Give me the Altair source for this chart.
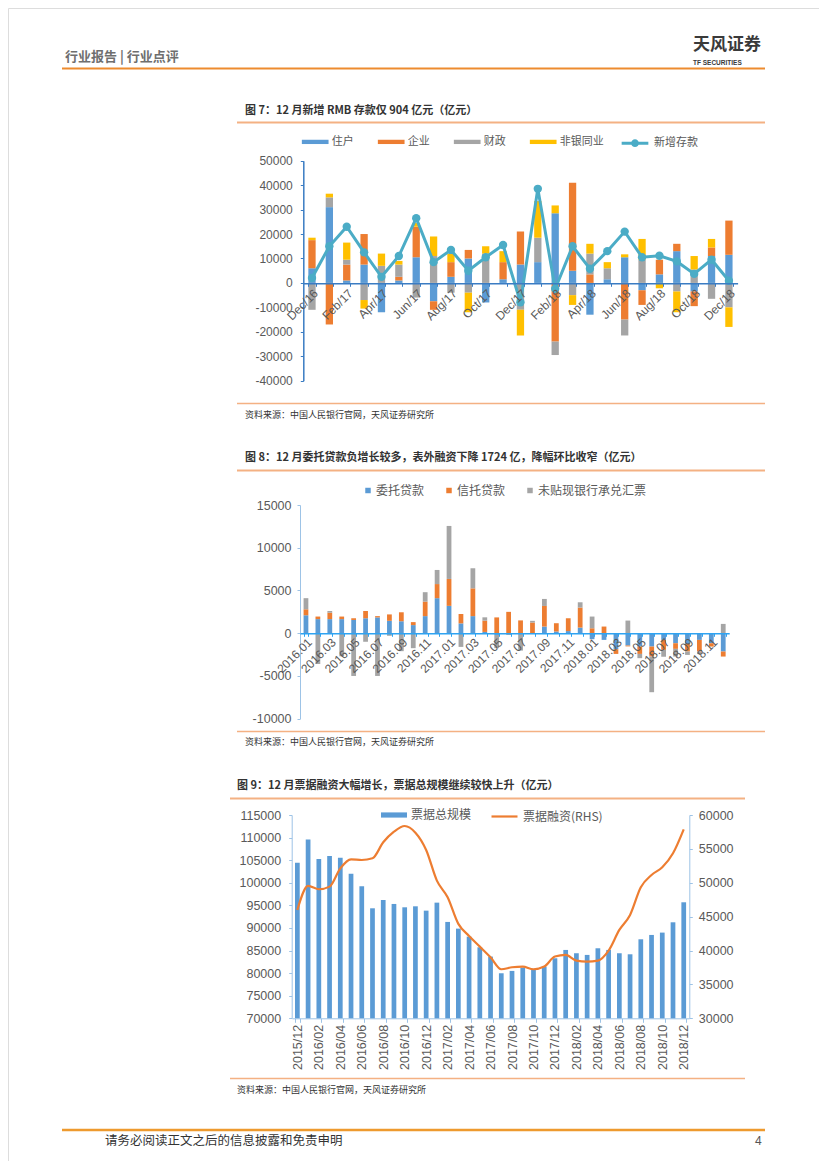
import json
import altair as alt
import pandas as pd

CJK = 'Noto Sans CJK SC'
NUM = 'Liberation Sans'
W, H = 811, 1153
M = 8


def px(v):
    return v - M


def py(v):
    return v - M


# ---------------- texts ----------------
header_text = '行业报告 | 行业点评'
logo_cn = '天风证券'
logo_en = 'TF SECURITIES'
footer_text = '请务必阅读正文之后的信息披露和免责申明'
page_no = '4'
source_text = '资料来源：中国人民银行官网，天风证券研究所'
title7 = '图 7：12 月新增 RMB 存款仅 904 亿元（亿元）'
title8 = '图 8：12 月委托贷款负增长较多，表外融资下降 1724 亿，降幅环比收窄（亿元）'
title9 = '图 9：12 月票据融资大幅增长，票据总规模继续较快上升（亿元）'

# ---------------- chart 7 data ----------------
months7 = ['Dec/16', 'Jan/17', 'Feb/17', 'Mar/17', 'Apr/17', 'May/17', 'Jun/17', 'Jul/17',
           'Aug/17', 'Sep/17', 'Oct/17', 'Nov/17', 'Dec/17', 'Jan/18', 'Feb/18', 'Mar/18',
           'Apr/18', 'May/18', 'Jun/18', 'Jul/18', 'Aug/18', 'Sep/18', 'Oct/18', 'Nov/18', 'Dec/18']
labels7 = ['Dec/16', 'Feb/17', 'Apr/17', 'Jun/17', 'Aug/17', 'Oct/17', 'Dec/17',
           'Feb/18', 'Apr/18', 'Jun/18', 'Aug/18', 'Oct/18', 'Dec/18']
series7 = ['住户', '企业', '财政', '非银同业']
colors7 = ['#5B9BD5', '#ED7D31', '#A5A5A5', '#FFC000']
household = [6000, 31000, 1000, 7500, -12000, 1000, 10500, -7500, 2500, 10000, -8000, 1500, 7500,
             8500, 28500, 5000, -13000, 1500, 10500, -3000, 3500, 13000, -3500, 11000, 11500]
enterprise = [11500, -17000, 6500, 12500, 0, 1500, 12500, -3500, 6000, 3500, 0, 7000, 13500,
              0, -24000, 36000, 3500, 0, -15000, -6000, 6000, 3000, -6000, 3500, 14000]
fiscal = [-11000, 4000, 2000, -7000, 7000, 5000, -6000, 11000, -4000, -4000, 12000, 0, -11000,
          10000, -5500, -5000, 8500, 4500, -6500, 9500, 0, -3500, 5500, -6500, -10000]
nonbank = [1000, 1500, 7000, -3500, 5000, 1500, 1500, 8000, 3500, -8000, 3000, 4500, -10500,
           15000, 3200, -4000, 4000, 2500, 1200, 8500, -2200, -8500, 5500, 3500, -8000]
line7_name = '新增存款'
line7_color = '#4BACC6'
new_deposit = [2000, 15000, 23000, 12500, 2500, 11000, 26500, 8500, 13500, 5000, 10500, 15500,
               -7900, 38500, -2400, 15000, 5800, 13000, 21000, 10500, 11100, 8800, 3700, 9500, 904]
y7_ticks = [-40000, -30000, -20000, -10000, 0, 10000, 20000, 30000, 40000, 50000]

# ---------------- chart 8 data ----------------
months8 = ['2016.01', '2016.02', '2016.03', '2016.04', '2016.05', '2016.06', '2016.07', '2016.08',
           '2016.09', '2016.10', '2016.11', '2016.12', '2017.01', '2017.02', '2017.03', '2017.04',
           '2017.05', '2017.06', '2017.07', '2017.08', '2017.09', '2017.10', '2017.11', '2017.12',
           '2018.01', '2018.02', '2018.03', '2018.04', '2018.05', '2018.06', '2018.07', '2018.08',
           '2018.09', '2018.10', '2018.11', '2018.12']
labels8 = ['2016.01', '2016.03', '2016.05', '2016.07', '2016.09', '2016.11', '2017.01', '2017.03',
           '2017.05', '2017.07', '2017.09', '2017.11', '2018.01', '2018.03', '2018.05', '2018.07',
           '2018.09', '2018.11']
series8 = ['委托贷款', '信托贷款', '未贴现银行承兑汇票']
colors8 = ['#5B9BD5', '#ED7D31', '#A5A5A5']
entrusted = [2100, 1650, 1650, 1650, 1550, 1750, 1850, 1450, 1400, 950, 2000, 4100,
             3200, 1150, 2000, 150, -200, 0, 0, 0, 780, 200, 250, 660,
             -700, -780, -1870, -1440, -1560, -1560, -780, -1170, -1250, -780, -1170, -2140]
trust = [700, 300, 750, 300, 200, 850, 150, 750, 1050, 350, 1700, 1650,
         3150, 1100, 3250, 1320, 1850, 2500, 1500, 1250, 2410, 970, 1500, 2340,
         580, 780, -550, -100, -860, -1170, -1170, -660, -890, -1360, -390, -590]
undiscounted = [1300, -3600, 200, -2700, -5000, -1000, -5000, -300, -2100, -1750, 1100, 1650,
                6200, -1600, 2350, 390, -1550, -200, -2030, 200, 820, 0, 0, 620,
                1370, 0, 0, 1480, -500, -4170, -800, -900, -400, -300, 0, 1090]
y8_ticks = [-10000, -5000, 0, 5000, 10000, 15000]

# ---------------- chart 9 data ----------------
months9 = ['2015/12', '2016/01', '2016/02', '2016/03', '2016/04', '2016/05', '2016/06', '2016/07',
           '2016/08', '2016/09', '2016/10', '2016/11', '2016/12', '2017/01', '2017/02', '2017/03',
           '2017/04', '2017/05', '2017/06', '2017/07', '2017/08', '2017/09', '2017/10', '2017/11',
           '2017/12', '2018/01', '2018/02', '2018/03', '2018/04', '2018/05', '2018/06', '2018/07',
           '2018/08', '2018/09', '2018/10', '2018/11', '2018/12']
labels9 = ['2015/12', '2016/02', '2016/04', '2016/06', '2016/08', '2016/10', '2016/12', '2017/02',
           '2017/04', '2017/06', '2017/08', '2017/10', '2017/12', '2018/02', '2018/04', '2018/06',
           '2018/08', '2018/10', '2018/12']
bar9_name = '票据总规模'
line9_name = '票据融资(RHS)'
bill_total = [104450, 109600, 105270, 105930, 105560, 102020, 99220, 94350, 96190, 95310,
              94570, 94790, 93830, 95600, 91330, 89850, 88080, 85720, 83660, 79970,
              80490, 81220, 80850, 81440, 83290, 85130, 84400, 84030, 85500, 85130,
              84400, 84170, 87490, 88450, 88970, 91250, 95680]
bill_financing = [45990, 49530, 49040, 49430, 52130, 53460, 53360, 53610, 55970, 57540,
                  58380, 57390, 54840, 50320, 47860, 43930, 42150, 40580, 39000, 37240,
                  37530, 37630, 37240, 37630, 39110, 39350, 38520, 38370, 38520, 39990,
                  43040, 45250, 49330, 51150, 52280, 54350, 57890]
y9l_ticks = [70000, 75000, 80000, 85000, 90000, 95000, 100000, 105000, 110000, 115000]
y9r_ticks = [30000, 35000, 40000, 45000, 50000, 55000, 60000]

# ---------------- helpers ----------------
RECT_PATH = 'M-1,-0.16L1,-0.16L1,0.16L-1,0.16Z'
RECT9_PATH = 'M-1,-0.2L1,-0.2L1,0.2L-1,0.2Z'
LINE_DOT_PATH = 'M-1,0L1,0M0.18,0A0.18,0.18,0,1,1,-0.18,0A0.18,0.18,0,1,1,0.18,0Z'
LABEL_GRAY = '#595959'


def label_expr(shown):
    return "indexof(%s, datum.value) >= 0 ? datum.value : ''" % json.dumps(shown)


def text_layer(txt, x, y, size, color='#333333', weight='normal', font=CJK, align='left'):
    return alt.Chart(pd.DataFrame({'t': [txt]})).mark_text(
        align=align, baseline='middle', fontSize=size, font=font, fontWeight=weight, color=color
    ).encode(x=alt.value(px(x)), y=alt.value(py(y)), text='t:N')


def hrule(x1, x2, y, color, width):
    return alt.Chart(pd.DataFrame({'a': [0]})).mark_rule(color=color, strokeWidth=width).encode(
        x=alt.value(px(x1)), x2=alt.value(px(x2)), y=alt.value(py(y)))


def legend(x, y, **kw):
    base = dict(orient='none', legendX=px(x), legendY=py(y), direction='horizontal', title=None,
                padding=0, labelFont=CJK, labelColor=LABEL_GRAY, symbolOpacity=1)
    base.update(kw)
    return alt.Legend(**base)


# ---------------- chart 7 ----------------
AX7 = '#3A7CC3'
L7Y = 141.5 - 13.35
df7 = pd.DataFrame({
    'month': months7 * 4,
    'series': [s for s in series7 for _ in months7],
    'k': [i for i in range(4) for _ in months7],
    'value': household + enterprise + fiscal + nonbank,
})
df7l = pd.DataFrame({'month': months7, 'total': new_deposit, 'name': line7_name})

x7 = alt.X('month:N', sort=months7, title=None,
           scale=alt.Scale(domain=months7, range=[px(303.3), px(737.6)], paddingInner=0.58, paddingOuter=0.29),
           axis=alt.Axis(orient='bottom', offset=py(283.3) - H, domainColor=AX7, domainWidth=1.5,
                         tickColor=AX7, tickSize=3, tickBand='extent', labelAngle=-45, labelAlign='right',
                         labelBaseline='top', labelPadding=1, labelFont=NUM, labelFontSize=12,
                         labelColor=LABEL_GRAY, labelOverlap=False, labelExpr=label_expr(labels7), zindex=1))
sy7 = alt.Scale(domain=[-40000, 50000], range=[py(380.7), py(160.7)], nice=False, zero=False)
ay7 = alt.Axis(orient='left', offset=-px(303.3), values=y7_ticks, labelExpr='toString(datum.value)',
               domainColor=AX7, domainWidth=1.5, tickColor=AX7, tickSize=3, labelPadding=8, labelFont=NUM,
               labelFontSize=12, labelColor=LABEL_GRAY, grid=False, labelFlush=False, labelOverlap=False)

bars7 = alt.Chart(df7).mark_bar().encode(
    x=x7,
    y=alt.Y('value:Q', stack='zero', scale=sy7, axis=ay7, title=None),
    color=alt.Color('series:N', scale=alt.Scale(domain=series7, range=colors7),
                    legend=legend(301.7, L7Y, symbolType=RECT_PATH, symbolSize=713,
                                  symbolStrokeWidth=0, labelFontSize=11, labelOffset=3,
                                  columnPadding=24, columns=4)),
    order=alt.Order('k:Q'),
)
line7 = alt.Chart(df7l).mark_line(strokeWidth=3).encode(
    x=x7,
    y=alt.Y('total:Q', scale=sy7, axis=ay7, title=None),
    stroke=alt.Stroke('name:N', scale=alt.Scale(domain=[line7_name], range=[line7_color]),
                      legend=legend(620, L7Y, symbolType=LINE_DOT_PATH, symbolSize=713,
                                    symbolStrokeWidth=3, symbolFillColor=line7_color,
                                    labelFontSize=11, labelOffset=4)),
)
pts7 = alt.Chart(df7l).mark_point(filled=True, size=70, opacity=1, color=line7_color).encode(
    x=x7,
    y=alt.Y('total:Q', scale=sy7, axis=ay7, title=None),
)
chart7 = alt.layer(bars7, line7, pts7)

# ---------------- chart 8 ----------------
df8 = pd.DataFrame({
    'month': months8 * 3,
    'series': [s for s in series8 for _ in months8],
    'k': [i for i in range(3) for _ in months8],
    'value': entrusted + trust + undiscounted,
})
x8 = alt.X('month:N', sort=months8, title=None,
           scale=alt.Scale(domain=months8, range=[px(300), px(729.2)], paddingInner=0.6, paddingOuter=0.3),
           axis=alt.Axis(orient='bottom', offset=py(633.3) - H, domainColor='#2EA3F2', domainWidth=1.5,
                         tickColor='#2EA3F2', tickSize=3, tickBand='extent', labelAngle=-45, labelAlign='right',
                         labelBaseline='top', labelPadding=0, labelFont=NUM, labelFontSize=12,
                         labelColor=LABEL_GRAY, labelOverlap=False, labelExpr=label_expr(labels8), zindex=1))
chart8 = alt.Chart(df8).mark_bar().encode(
    x=x8,
    y=alt.Y('value:Q', stack='zero', title=None,
            scale=alt.Scale(domain=[-10000, 15000], range=[py(718.7), py(505)], nice=False, zero=False),
            axis=alt.Axis(orient='left', offset=-px(300), values=y8_ticks, labelExpr='toString(datum.value)',
                          domainColor='#9DC3E6', tickColor='#9DC3E6', tickSize=3, labelPadding=6, labelFont=NUM,
                          labelFontSize=12.5, labelColor=LABEL_GRAY, grid=False, labelFlush=False,
                          labelOverlap=False)),
    color=alt.Color('series:N', scale=alt.Scale(domain=series8, range=colors8),
                    legend=legend(362, 490.5 - 6, symbolType='square', symbolSize=30, symbolStrokeWidth=0,
                                  labelFontSize=12, labelOffset=2, columnPadding=18, columns=3)),
    order=alt.Order('k:Q'),
)

# ---------------- chart 9 ----------------
AX9 = '#9DC3E6'
df9 = pd.DataFrame({'month': months9, 'total': bill_total, 'financing': bill_financing,
                    'bname': bar9_name, 'lname': line9_name})
x9 = alt.X('month:N', sort=months9, title=None,
           scale=alt.Scale(domain=months9, range=[px(292), px(689.1)], paddingInner=0.56, paddingOuter=0.28),
           axis=alt.Axis(orient='bottom', offset=py(1018.3) - H, values=labels9, domainColor=AX9,
                         tickColor=AX9, tickSize=4, tickBand='extent', labelAngle=-90, labelAlign='right',
                         labelBaseline='middle', labelPadding=2, labelFont=NUM, labelFontSize=12.5,
                         labelColor=LABEL_GRAY, labelOverlap=False))
bars9 = alt.Chart(df9).mark_bar(color='#5B9BD5').encode(
    x=x9,
    y=alt.Y('total:Q', title=None,
            scale=alt.Scale(domain=[70000, 115000], range=[py(1018.3), py(815)], nice=False, zero=False),
            axis=alt.Axis(orient='left', offset=-px(291.7), values=y9l_ticks, labelExpr='toString(datum.value)',
                          domainColor=AX9, tickColor=AX9, tickSize=3, labelPadding=8, labelFont=NUM,
                          labelFontSize=12.5, labelColor=LABEL_GRAY, grid=False, labelFlush=False,
                          labelOverlap=False)),
    y2=alt.datum(70000),
    color=alt.Color('bname:N', scale=alt.Scale(domain=[bar9_name], range=['#5B9BD5']),
                    legend=legend(381, 815 - 13, symbolType=RECT9_PATH, symbolSize=676, symbolStrokeWidth=0,
                                  labelFontSize=12, labelOffset=4)),
)
line9 = alt.Chart(df9).mark_line(strokeWidth=2.2, interpolate='monotone').encode(
    x=x9,
    y=alt.Y('financing:Q', title=None,
            scale=alt.Scale(domain=[30000, 60000], range=[py(1018.3), py(815)], nice=False, zero=False),
            axis=alt.Axis(orient='right', offset=px(689.3) - W, values=y9r_ticks, labelExpr='toString(datum.value)',
                          domainColor=AX9, tickColor=AX9, tickSize=3, labelPadding=6, labelFont=NUM,
                          labelFontSize=12.5, labelColor=LABEL_GRAY, grid=False, labelFlush=False,
                          labelOverlap=False)),
    stroke=alt.Stroke('lname:N', scale=alt.Scale(domain=[line9_name], range=['#ED7D31']),
                      legend=legend(490, 815 - 13, symbolType='stroke', symbolSize=676, symbolStrokeWidth=2.2,
                                    labelFontSize=12, labelOffset=4)),
)
chart9 = alt.layer(bars9, line9).resolve_scale(y='independent')

# ---------------- page furniture ----------------
ORANGE = '#ED8B2F'
LIGHT = '#F4B183'
furniture = [
    text_layer(header_text, 65, 57, 13, color='#6E6E6E', weight='bold'),
    text_layer(logo_cn, 693, 45, 17, color='#3A3A3A', weight='bold'),
    text_layer(logo_en, 693, 63, 6.5, color='#3A3A3A', weight='bold', font=NUM),
    hrule(62, 765, 68.5, ORANGE, 2),
    text_layer(title7, 245, 111, 11, weight='bold'),
    hrule(237, 765, 122.5, LIGHT, 2),
    text_layer(source_text, 245, 415, 9),
    hrule(237, 765, 403.5, LIGHT, 1.5),
    text_layer(title8, 245, 458, 11, weight='bold'),
    hrule(237, 765, 470.5, LIGHT, 2),
    text_layer(source_text, 245, 742, 9),
    hrule(237, 765, 731.5, LIGHT, 1.5),
    text_layer(title9, 237, 786, 11, weight='bold'),
    hrule(230, 745, 798.5, LIGHT, 2),
    text_layer(source_text, 237, 1090, 9),
    hrule(230, 745, 1078.5, LIGHT, 1.5),
    hrule(62, 765, 1130, '#EE9A2E', 2.5),
    text_layer(footer_text, 105, 1141, 12.5),
    text_layer(page_no, 755, 1141, 12, color='#555555', font=NUM),
]

chart = alt.layer(chart7, chart8, chart9, *furniture).resolve_scale(
    x='independent', y='independent', color='independent', fill='independent', stroke='independent'
).properties(
    width=W, height=H, autosize=alt.AutoSizeParams(type='none'), padding=0,
).configure_view(stroke=None).configure(background='white')

chart.save('out.html', embed_options={'renderer': 'svg', 'actions': False})
